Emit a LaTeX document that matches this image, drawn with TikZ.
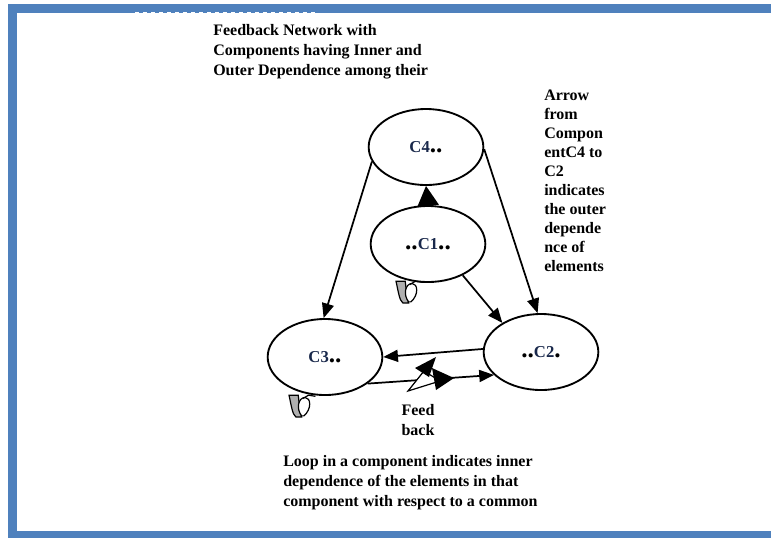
\documentclass[tikz,border=0pt]{standalone}
\usepackage{fontspec}
\setmainfont{Liberation Serif}
\usetikzlibrary{shapes.geometric,arrows.meta}
\definecolor{frameblue}{RGB}{79,129,189}
\definecolor{loopgrey}{RGB}{175,175,175}
\definecolor{labelnavy}{RGB}{25,40,75}
\newcommand{\bdot}{{\fontsize{19}{19}\selectfont.}}
\tikzset{
  comp/.style={ellipse,draw,line width=1.4pt,minimum width=86pt,minimum height=57pt,inner sep=0pt,font=\bfseries\fontsize{12.5}{14}\selectfont},
  conn/.style={line width=1.3pt,-{Triangle[length=11pt,width=9pt]}},
  bigconn/.style={line width=1.3pt,-{Triangle[length=15pt,width=16pt]}},
  note/.style={font=\bfseries\fontsize{12}{15}\selectfont,align=left,inner sep=0pt,anchor=north west},
  notenarrow/.style={font=\bfseries\fontsize{12}{14.25}\selectfont,align=left,inner sep=0pt,anchor=north west},
  glyphline/.style={line width=0.9pt},
}
\begin{document}
\begin{tikzpicture}[x=0.75pt,y=-0.75pt]
\useasboundingbox (0,0) rectangle (771,537);
% frame
\draw[frameblue,line width=6.75pt] (775,8.5) -- (12.5,8.5) -- (12.5,535.5) -- (775,535.5);
\draw[white,line width=1.2pt,dash pattern=on 3pt off 3pt] (135,13.2) -- (318,13.2);
% components
\node[comp] (c4) at (426,147) {\textcolor{labelnavy}{C4}\bdot\bdot};
\node[comp] (c1) at (428,244) {\bdot\bdot\textcolor{labelnavy}{C1}\bdot\bdot};
\node[comp] (c3) at (325,357) {\textcolor{labelnavy}{C3}\bdot\bdot};
\node[comp] (c2) at (541,352) {\bdot\bdot\textcolor{labelnavy}{C2}\bdot};
% connectors
\draw[bigconn] (c1.north) -- (c4.south);
\draw[conn] (c4.195) -- (c3.92);
\draw[conn] (c4.358) -- (c2.95);
\draw[conn] (c1.318) -- (c2.143);
\draw[conn] (c2.177) -- (c3.0);
\draw[conn] (c3.328) -- (c2.206);
% feedback glyph
\coordinate (fbA) at (408,391);
\coordinate (fbB) at (424,371);
\coordinate (fbC) at (440,381);
\draw[glyphline,fill=white] (fbA) -- (fbB) -- (fbC) -- cycle;
\fill (436,357) -- (415,368) -- (429,377) -- cycle;
\fill (454,378) -- (432,368) -- (436,390) -- cycle;
% loop glyphs
\foreach \lx/\ly in {396/280,289/394}{
  \begin{scope}[shift={(\lx,\ly)},scale=1.15]
    \draw[glyphline,fill=loopgrey] (0,1) .. controls (2,10) and (3,18) .. (6,20) -- (11,20) .. controls (9,15) and (9,8) .. (8,1) -- cycle;
    \draw[glyphline,fill=white] (11,19) .. controls (6,13) and (8,3) .. (14,3) .. controls (19,3) and (20,13) .. (13,19) -- cycle;
    \draw[glyphline] (12,4) -- (17,1) -- (23,2);
  \end{scope}
}
% texts
\node[note] (title) at (213,24) {Feedback Network with\\Components having Inner and\\Outer Dependence among their};
\node[notenarrow] (side) at (544,90) {Arrow\\from\\Compon\\entC4 to\\C2\\indicates\\the outer\\depende\\nce of\\elements};
\node[font=\bfseries\fontsize{12}{15}\selectfont,align=center,inner sep=0pt,anchor=north] (fb) at (418,404) {Feed\\back};
\node[note] (loopnote) at (283,455) {Loop in a component indicates inner\\dependence of the elements in that\\component with respect to a common};
\end{tikzpicture}
\end{document}
